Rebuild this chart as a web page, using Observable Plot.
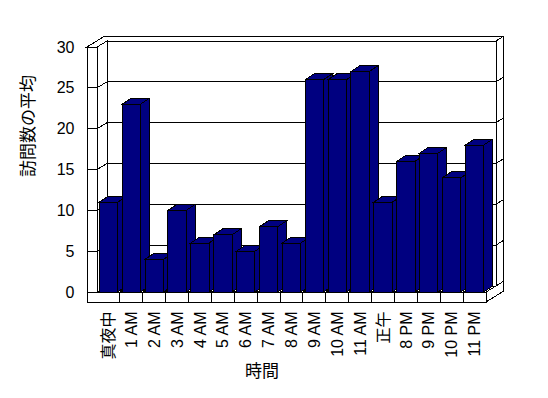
<!DOCTYPE html>
<html><head><meta charset="utf-8">
<script src="https://cdn.jsdelivr.net/npm/d3@7"></script>
<script src="https://cdn.jsdelivr.net/npm/@observablehq/plot@0.6"></script>
<style>body{margin:0;background:#fff}</style>
</head><body><div id="chart"></div>
<script>
const hours = ["真夜中","1 AM","2 AM","3 AM","4 AM","5 AM","6 AM","7 AM","8 AM","9 AM","10 AM","11 AM","正午","8 PM","9 PM","10 PM","11 PM"];
const visits = [11,23,4,10,6,7,5,8,6,26,26,27,11,16,17,14,18];
const yTicks = [0,5,10,15,20,25,30];
const xTitle = "時間";
const yTitle = "訪問数の平均";

const data = hours.map((h, i) => ({hour: h, visits: visits[i]}));
const NAVY = "#000080";
const W = {dx: 10, dy: -6};     // floor depth to back wall face
const B = {dx: 17, dy: -10.5};  // back of the wall slab
const BAR = {dx: 9, dy: -6};    // bar depth
const SLAB = 10;                // wall / floor thickness
const INSET = 2.25;
const NS = "http://www.w3.org/2000/svg";

function el(tag, attrs) {
  const e = document.createElementNS(NS, tag);
  for (const k in attrs) e.setAttribute(k, attrs[k]);
  return e;
}
function poly(pts, fill) {
  return el("polygon", {points: pts.map(p => p.join(",")).join(" "), fill, stroke: "black", "stroke-linejoin": "miter"});
}
function seg(x1, y1, x2, y2) {
  return el("line", {x1, y1, x2, y2, stroke: "black"});
}
function bandInfo(scales) {
  const xL = scales.x(hours[0]);
  const bw = scales.x(hours[1]) - scales.x(hours[0]);
  const xR = scales.x(hours[hours.length - 1]) + bw;
  return {xL, xR, bw};
}

const frame = Plot.ruleY(yTicks, {
  y: d => d,
  render(index, scales) {
    const g = el("g", {"shape-rendering": "crispEdges"});
    const {xL, xR} = bandInfo(scales);
    const y0 = scales.y(0), yT = scales.y(30);
    const a = xL - SLAB;
    g.append(poly([[a, yT], [xL, yT], [xL + W.dx, yT + W.dy], [xR + W.dx, yT + W.dy], [xR + B.dx, yT + B.dy], [a + B.dx, yT + B.dy]], "white"));
    g.append(poly([[xL + W.dx, yT + W.dy], [xR + W.dx, yT + W.dy], [xR + W.dx, y0 + W.dy], [xL + W.dx, y0 + W.dy]], "white"));
    g.append(poly([[xL, yT], [xL + W.dx, yT + W.dy], [xL + W.dx, y0 + W.dy], [xL, y0]], "white"));
    g.append(poly([[xL, y0], [xR, y0], [xR + W.dx, y0 + W.dy], [xL + W.dx, y0 + W.dy]], "white"));
    g.append(poly([[a, yT], [xL, yT], [xL, y0], [xR, y0], [xR, y0 + SLAB], [a, y0 + SLAB]], "white"));
    g.append(poly([[xR, y0], [xR + W.dx, y0 + W.dy], [xR + W.dx, yT + W.dy], [xR + B.dx, yT + B.dy], [xR + B.dx, y0 + SLAB + B.dy], [xR, y0 + SLAB]], "white"));
    g.append(seg(xR + W.dx, y0 + W.dy, xR + B.dx, y0 + B.dy));
    for (const t of yTicks) {
      const y = scales.y(t);
      g.append(seg(xL + W.dx, y + W.dy, xR + W.dx, y + W.dy));
      g.append(seg(xL, y, xL + W.dx, y + W.dy));
      g.append(seg(a, y, xL, y));
      g.append(seg(xR + W.dx, y + W.dy, xR + B.dx, y + B.dy));
    }
    for (const h of hours.slice(1)) {
      const x = scales.x(h);
      g.append(seg(x, y0, x, y0 + SLAB));
      g.append(seg(x, y0, x + W.dx, y0 + W.dy));
    }
    return g;
  }
});

const bars = Plot.barY(data, {
  x: "hour", y: "visits", fill: NAVY, stroke: "black",
  render(index, scales) {
    const g = el("g", {"shape-rendering": "crispEdges"});
    const {bw} = bandInfo(scales);
    const y0 = scales.y(0);
    for (const i of index) {
      const d = data[i];
      const x = scales.x(d.hour) + INSET, w = bw - 2 * INSET;
      const yt = scales.y(d.visits);
      g.append(poly([[x + w, yt], [x + w + BAR.dx, yt + BAR.dy], [x + w + BAR.dx, y0 + BAR.dy], [x + w, y0]], NAVY));
      g.append(poly([[x, yt], [x + w, yt], [x + w + BAR.dx, yt + BAR.dy], [x + BAR.dx, yt + BAR.dy]], NAVY));
      g.append(poly([[x, yt], [x + w, yt], [x + w, y0], [x, y0]], NAVY));
    }
    return g;
  }
});

const chart = Plot.plot({
  width: 548, height: 398,
  marginLeft: 97, marginRight: 62, marginTop: 47, marginBottom: 106,
  style: {fontFamily: "'Liberation Sans', Arial, 'Noto Sans CJK JP', sans-serif", fontSize: "16px", background: "white", color: "black"},
  x: {type: "band", domain: hours, padding: 0, round: false},
  y: {domain: [0, 30], round: false},
  marks: [
    frame,
    bars,
    Plot.axisY({ticks: yTicks, tickSize: 0, tickPadding: 23, fontSize: 16, fill: "black", label: null}),
    Plot.axisX({tickSize: 0, tickPadding: 19, tickRotate: -90, fontSize: 16, fill: "black", label: null}),
    Plot.text([xTitle], {frameAnchor: "bottom", dx: -30, dy: 84, fontSize: 17, fill: "black"}),
    Plot.text([yTitle], {frameAnchor: "left", rotate: -90, dx: -69, dy: 7, fontSize: 17, fill: "black"})
  ]
});
document.getElementById("chart").append(chart);
</script>
</body></html>
